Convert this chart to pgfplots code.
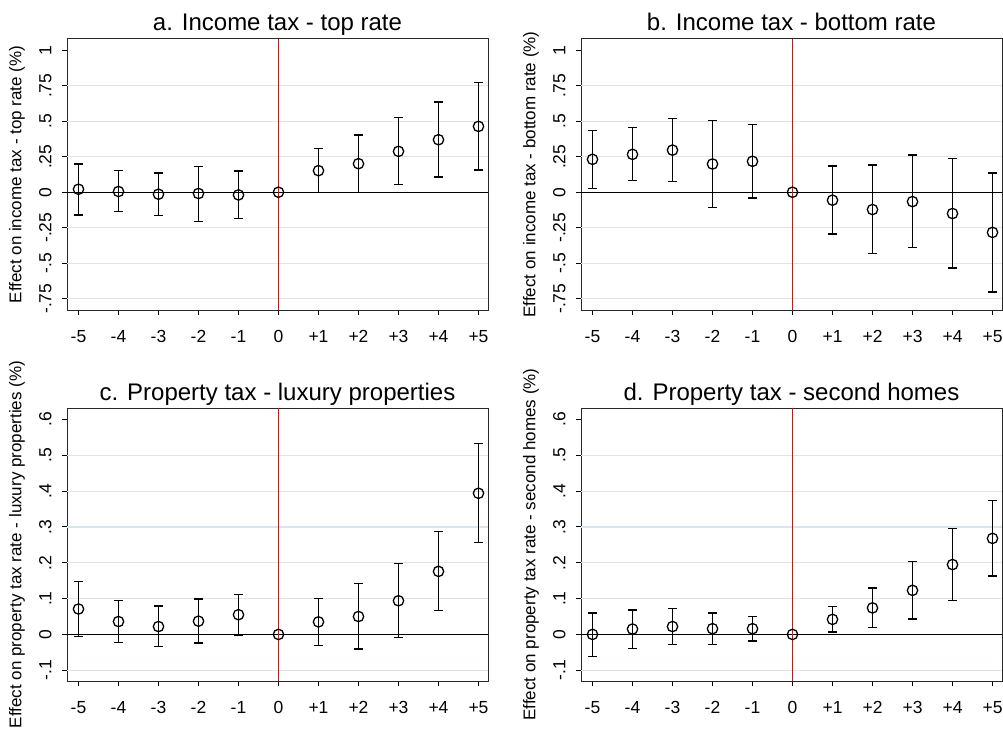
\documentclass[border=0pt]{standalone}
\usepackage{fontspec}
\setmainfont{Liberation Sans}
\usepackage{pgfplots}
\pgfplotsset{compat=1.18}
\usepackage{pgfplotstable}

\definecolor{gridc}{RGB}{218,230,236}
\definecolor{framec}{RGB}{40,40,40}
\definecolor{vred}{RGB}{255,0,0}

\pgfplotstableread{
x y lo hi
-5 0.021 -0.160 0.200
-4 0.005 -0.138 0.155
-3 -0.014 -0.164 0.136
-2 -0.009 -0.204 0.183
-1 -0.019 -0.187 0.150
1 0.152 0.000 0.307
2 0.201 0.000 0.403
3 0.288 0.054 0.525
4 0.370 0.108 0.635
5 0.464 0.157 0.773
}\dataA

\pgfplotstableread{
x y lo hi
-5 0.232 0.028 0.433
-4 0.267 0.084 0.454
-3 0.297 0.075 0.522
-2 0.199 -0.108 0.504
-1 0.218 -0.040 0.475
1 -0.056 -0.295 0.185
2 -0.122 -0.433 0.192
3 -0.066 -0.391 0.262
4 -0.150 -0.534 0.237
5 -0.283 -0.703 0.136
}\dataB

\pgfplotstableread{
x y lo hi
-5 0.071 -0.005 0.148
-4 0.036 -0.022 0.094
-3 0.022 -0.033 0.079
-2 0.037 -0.024 0.099
-1 0.055 -0.002 0.112
1 0.035 -0.030 0.100
2 0.050 -0.041 0.143
3 0.094 -0.009 0.198
4 0.176 0.067 0.287
5 0.394 0.257 0.532
}\dataC

\pgfplotstableread{
x y lo hi
-5 0.000 -0.061 0.060
-4 0.015 -0.039 0.068
-3 0.022 -0.028 0.072
-2 0.016 -0.029 0.060
-1 0.016 -0.018 0.051
1 0.042 0.007 0.078
2 0.074 0.020 0.130
3 0.123 0.043 0.204
4 0.195 0.095 0.295
5 0.268 0.163 0.373
}\dataD

\pgfplotsset{
  panel/.style={
    scale only axis, width=421pt,
    xmin=-5.2875, xmax=5.2375,
    xtick={-5,-4,-3,-2,-1,0,1,2,3,4,5},
    xticklabels={-5,-4,-3,-2,-1,0,+1,+2,+3,+4,+5},
    axis line style={framec, line width=1pt},
    tick style={black, line width=1pt},
    tick align=outside, major tick length=5pt,
    xtick pos=bottom, ytick pos=left,
    ticklabel style={font=\fontsize{17.5}{19}\selectfont},
    /pgf/number format/assume math mode=true,
    xticklabel style={yshift=-12pt},
    yticklabel style={xshift=-7pt, rotate=90, anchor=south},
    every axis title/.style={at={(0.5,1)}, anchor=base, yshift=8pt, inner sep=0pt, font=\fontsize{24}{26}\selectfont},
    every axis y label/.style={at={(rel axis cs:0,0.5)}, anchor=center, rotate=90, yshift=50pt, font=\fontsize{17}{19}\selectfont},
    grid style={gridc, line width=1.2pt},
    extra y tick style={grid=major, major tick length=0pt},
    extra y tick labels={},
  },
  ebar/.style={only marks, mark=o, mark size=5.2pt,
    mark options={fill=white, draw=black, line width=1.3pt},
    error bars/.cd, y dir=both, y explicit,
    error bar style={black, line width=1.3pt},
    error mark options={rotate=90, mark size=4.5pt, black, line width=1.3pt}},
  zmark/.style={only marks, mark=o, mark size=5.2pt,
    mark options={fill=white, draw=black, line width=1.3pt}},
  vline/.style={vred, line width=1.5pt, forget plot},
}

\begin{document}
\begin{tikzpicture}
% a
\begin{axis}[panel, at={(67pt,430pt)}, anchor=south west, height=271pt,
  ymin=-0.83, ymax=1.08,
  ytick={-0.75,-0.5,-0.25,0,0.25,0.5,0.75,1},
  yticklabels={-.75,-.5,-.25,0,.25,.5,.75,1},
  extra y ticks={-0.75,-0.5,-0.25,0.25,0.5,0.75},
  title={a. Income tax - top rate},
  ylabel={Effect on income tax - top rate (\%)}]
\addplot[black, line width=1.3pt, forget plot] coordinates {(-5.3,0) (5.3,0)};
\addplot[vline] coordinates {(0,-0.83) (0,1.08)};
\addplot[ebar] table[x=x, y=y, y error plus expr=\thisrow{hi}-\thisrow{y}, y error minus expr=\thisrow{y}-\thisrow{lo}] {\dataA};
\addplot[zmark] coordinates {(0,0)};
\end{axis}
% b
\begin{axis}[panel, at={(581pt,430pt)}, anchor=south west, height=271pt,
  ymin=-0.83, ymax=1.08,
  ytick={-0.75,-0.5,-0.25,0,0.25,0.5,0.75,1},
  yticklabels={-.75,-.5,-.25,0,.25,.5,.75,1},
  extra y ticks={-0.75,-0.5,-0.25,0.25,0.5,0.75},
  title={b. Income tax - bottom rate},
  ylabel={Effect on income tax - bottom rate (\%)}]
\addplot[black, line width=1.3pt, forget plot] coordinates {(-5.3,0) (5.3,0)};
\addplot[vline] coordinates {(0,-0.83) (0,1.08)};
\addplot[ebar] table[x=x, y=y, y error plus expr=\thisrow{hi}-\thisrow{y}, y error minus expr=\thisrow{y}-\thisrow{lo}] {\dataB};
\addplot[zmark] coordinates {(0,0)};
\end{axis}
% c
\begin{axis}[panel, at={(67pt,59pt)}, anchor=south west, height=273pt,
  ymin=-0.13, ymax=0.632,
  ytick={-0.1,0,0.1,0.2,0.3,0.4,0.5,0.6},
  yticklabels={-.1,0,.1,.2,.3,.4,.5,.6},
  extra y ticks={-0.1,0.1,0.2,0.3,0.4,0.5},
  title={c. Property tax - luxury properties},
  ylabel={Effect on property tax rate - luxury properties (\%)}]
\addplot[black, line width=1.3pt, forget plot] coordinates {(-5.3,0) (5.3,0)};
\addplot[vline] coordinates {(0,-0.13) (0,0.632)};
\addplot[ebar] table[x=x, y=y, y error plus expr=\thisrow{hi}-\thisrow{y}, y error minus expr=\thisrow{y}-\thisrow{lo}] {\dataC};
\addplot[zmark] coordinates {(0,0)};
\end{axis}
% d
\begin{axis}[panel, at={(581pt,59pt)}, anchor=south west, height=273pt,
  ymin=-0.13, ymax=0.632,
  ytick={-0.1,0,0.1,0.2,0.3,0.4,0.5,0.6},
  yticklabels={-.1,0,.1,.2,.3,.4,.5,.6},
  extra y ticks={-0.1,0.1,0.2,0.3,0.4,0.5},
  title={d. Property tax - second homes},
  ylabel={Effect on property tax rate - second homes (\%)}]
\addplot[black, line width=1.3pt, forget plot] coordinates {(-5.3,0) (5.3,0)};
\addplot[vline] coordinates {(0,-0.13) (0,0.632)};
\addplot[ebar] table[x=x, y=y, y error plus expr=\thisrow{hi}-\thisrow{y}, y error minus expr=\thisrow{y}-\thisrow{lo}] {\dataD};
\addplot[zmark] coordinates {(0,0)};
\end{axis}
\pgfresetboundingbox
\path[use as bounding box] (0,0) rectangle (1003pt,740pt);
\end{tikzpicture}
\end{document}
